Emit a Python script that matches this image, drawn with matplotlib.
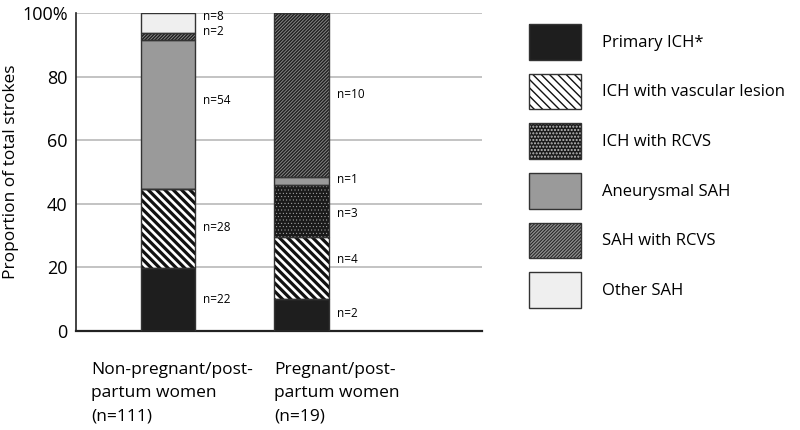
import matplotlib
matplotlib.use("Agg")
import matplotlib.pyplot as plt
import matplotlib.transforms as mtransforms
from matplotlib.patches import Patch
import numpy as np

plt.rcParams['font.family'] = ['Open Sans', 'DejaVu Sans']

groups = ["Non-pregnant/post-\npartum women\n(n=111)", "Pregnant/post-\npartum women\n(n=19)"]
categories = ["Primary ICH*", "ICH with vascular lesion", "ICH with RCVS",
              "Aneurysmal SAH", "SAH with RCVS", "Other SAH"]
# proportions (%), per category, per group
primary_ich = [19.8, 10.2]
ich_vascular = [25.0, 19.5]
ich_rcvs = [0.0, 16.2]
aneurysmal_sah = [46.7, 2.5]
sah_rcvs = [2.3, 51.6]
other_sah = [6.2, 0.0]
values = [primary_ich, ich_vascular, ich_rcvs, aneurysmal_sah, sah_rcvs, other_sah]
# count labels per category, per group ('' = no label)
counts = [["n=22", "n=2"], ["n=28", "n=4"], ["", "n=3"],
          ["n=54", "n=1"], ["n=2", "n=10"], ["n=8", ""]]
# vertical position (%) of each count label
label_y = [[10, 5.5], [32.5, 22.5], [0, 37],
           [72.5, 47.5], [94.3, 74.5], [99, 0]]

styles = [
    dict(face="#1e1e1e", hatch=None, hcol=None, hlw=1.0),
    dict(face="white", hatch="\\\\\\\\", hcol="#111111", hlw=2.3),
    dict(face="#1a1a1a", hatch=".....", hcol="#bdbdbd", hlw=0.3),
    dict(face="#9a9a9a", hatch=None, hcol=None, hlw=1.0),
    dict(face="#1f1f1f", hatch="//////////", hcol="#8c8c8c", hlw=0.65),
    dict(face="#efefef", hatch=None, hcol=None, hlw=1.0),
]
outline = "#333333"

fig = plt.figure(figsize=(8, 4.3), dpi=100)
ax = fig.add_axes([76/800, 1-331/430, (482-76)/800, (331-13)/430])

x = np.arange(len(groups))
width = 0.408
bottom = np.zeros(len(groups))
handles = []
for vals, st in zip(values, styles):
    vals = np.array(vals)
    with plt.rc_context({'hatch.linewidth': st['hlw']}):
        fill = ax.bar(x, vals, width, bottom=bottom, color=st['face'],
                      edgecolor=st['hcol'] if st['hatch'] else st['face'],
                      hatch=st['hatch'], linewidth=0, zorder=2)
        for p in fill:
            if hasattr(p, 'set_hatch_linewidth'):
                p.set_hatch_linewidth(st['hlw'])
        hf = Patch(facecolor=st['face'], edgecolor=st['hcol'] if st['hatch'] else st['face'],
                   hatch=st['hatch'], linewidth=0)
        if hasattr(hf, 'set_hatch_linewidth'):
            hf.set_hatch_linewidth(st['hlw'])
    ax.bar(x, vals, width, bottom=bottom, fill=False, edgecolor=outline,
           linewidth=1.0, zorder=3)
    ho = Patch(fill=False, edgecolor=outline, linewidth=1.0)
    handles.append((hf, ho))
    bottom = bottom + vals

for lab, ys in zip(counts, label_y):
    for i in range(len(groups)):
        if lab[i]:
            ax.text(x[i] + width/2 + 0.06, ys[i], lab[i], fontsize=8.5,
                    va='center', ha='left', zorder=4)

ax.set_xlim(-0.689, 2.352)
ax.set_ylim(0, 100)
ax.set_yticks([0, 20, 40, 60, 80, 100])
ax.set_yticklabels(["0", "20", "40", "60", "80", "100%"], fontsize=13)
ax.tick_params(axis='both', length=0)
ax.tick_params(axis='y', pad=6)
ax.grid(axis='y', color="#b3b3b3", linewidth=1.1, zorder=0)
ax.set_axisbelow(True)
for s in ['top', 'right']:
    ax.spines[s].set_visible(False)
ax.spines['left'].set_linewidth(1.2)
ax.spines['left'].set_color("#222222")
ax.spines['bottom'].set_linewidth(1.6)
ax.spines['bottom'].set_color("#222222")
ax.set_ylabel("Proportion of total strokes", fontsize=12.5)
ax.yaxis.set_label_coords(-(76-19)/406, 0.5)

ax.set_xticks(x)
ax.set_xticklabels(groups, fontsize=12.5, ha='left', va='top', linespacing=1.62)
offsets = [-77, -27]
for tl, dx in zip(ax.get_xticklabels(), offsets):
    tl.set_transform(tl.get_transform() + mtransforms.ScaledTranslation(dx/100, -26/100, fig.dpi_scale_trans))

leg = fig.legend(handles, categories, loc='upper left',
                 bbox_to_anchor=(529/800, 1-24/430), frameon=False,
                 fontsize=12, handlelength=3.1, handleheight=2.9,
                 labelspacing=0.85, handletextpad=1.25, borderpad=0, borderaxespad=0)

fig.savefig("out.png", dpi=100)
